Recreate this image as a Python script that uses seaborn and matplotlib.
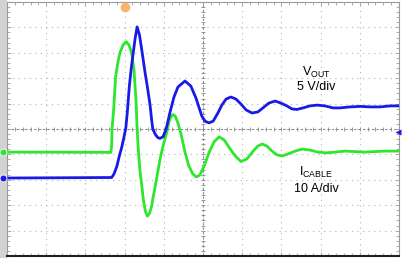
import matplotlib
matplotlib.use("Agg")
import matplotlib.pyplot as plt
import seaborn as sns
import pandas as pd
import numpy as np

# ---- data (screen divisions: x 0..10, y -5..5, centre 0) ----
# V_OUT trace (blue)
vout_x = [0.00, 2.67, 2.73, 2.80, 2.86, 2.93, 2.98, 3.03, 3.07, 3.12, 3.17, 3.22,
          3.27, 3.32, 3.38, 3.45, 3.52, 3.58, 3.65, 3.69, 3.72, 3.78, 3.84, 3.90,
          3.98, 4.06, 4.16, 4.26, 4.36, 4.54, 4.69, 4.82, 4.97, 5.05, 5.15, 5.26,
          5.38, 5.48, 5.59, 5.71, 5.84, 5.97, 6.10, 6.25, 6.40, 6.56, 6.68, 6.84,
          6.99, 7.14, 7.27, 7.40, 7.55, 7.73, 7.91, 8.11, 8.32, 8.49, 8.75, 9.01,
          9.26, 9.52, 9.77, 10.00]
vout_y = [-1.93, -1.91, -1.77, -1.48, -1.10, -0.70, -0.35, 0.03, 0.67, 1.67, 2.40,
          2.99, 3.58, 4.02, 3.70, 2.99, 2.24, 1.67, 0.94, 0.35, 0.00, -0.20, -0.33,
          -0.37, -0.31, 0.00, 0.67, 1.26, 1.65, 1.89, 1.69, 1.22, 0.51, 0.31, 0.24,
          0.31, 0.63, 0.94, 1.18, 1.26, 1.18, 0.98, 0.75, 0.63, 0.67, 0.87, 1.02,
          1.10, 1.02, 0.91, 0.79, 0.77, 0.83, 0.91, 0.94, 0.91, 0.83, 0.83, 0.87,
          0.89, 0.87, 0.87, 0.91, 0.91]

# I_CABLE trace (green)
icab_x = [0.00, 2.65, 2.67, 2.68, 2.72, 2.77, 2.83, 2.88, 2.96, 3.04, 3.11, 3.18,
          3.24, 3.29, 3.32, 3.35, 3.39, 3.44, 3.48, 3.53, 3.58, 3.64, 3.69, 3.73,
          3.81, 3.90, 3.98, 4.07, 4.13, 4.18, 4.23, 4.29, 4.36, 4.44, 4.54, 4.64,
          4.74, 4.83, 4.92, 5.03, 5.15, 5.28, 5.41, 5.54, 5.66, 5.82, 5.97, 6.12,
          6.28, 6.40, 6.51, 6.63, 6.76, 6.89, 7.02, 7.17, 7.35, 7.53, 7.73, 7.93,
          8.14, 8.37, 8.62, 8.88, 9.13, 9.39, 9.64, 10.00]
icab_y = [-0.91, -0.92, -0.63, 0.00, 0.75, 2.05, 2.64, 2.99, 3.31, 3.44, 3.31, 2.99,
          2.32, 1.14, 0.00, -0.83, -1.61, -2.24, -2.80, -3.23, -3.43, -3.31, -3.03,
          -2.67, -2.01, -1.22, -0.67, -0.17, 0.28, 0.47, 0.57, 0.51, 0.24, -0.20,
          -0.91, -1.46, -1.77, -1.89, -1.81, -1.46, -0.94, -0.51, -0.31, -0.43,
          -0.71, -1.06, -1.28, -1.18, -0.87, -0.67, -0.59, -0.67, -0.87, -1.02,
          -1.06, -0.98, -0.87, -0.79, -0.83, -0.91, -0.94, -0.91, -0.87, -0.89,
          -0.91, -0.89, -0.87, -0.87]

vout_label = r"V$_{\mathregular{OUT}}$"
vout_scale = "5 V/div"
icab_label = r"I$_{\mathregular{CABLE}}$"
icab_scale = "10 A/div"

BLUE = "#1a1ae8"
GREEN = "#2ee62e"

sns.set_theme(style="white")
plt.rcParams["font.family"] = ["Liberation Sans", "DejaVu Sans"]
plt.rcParams["mathtext.fontset"] = "custom"
plt.rcParams["mathtext.rm"] = "Liberation Sans"

W, H = 404, 258
fig = plt.figure(figsize=(W / 100, H / 100), dpi=100)
fig.patch.set_facecolor("white")

# left grey bar
bar = fig.add_axes([0, 0, 7 / W, 1])
bar.set_facecolor("#d2d2d2")
bar.set_xticks([]); bar.set_yticks([])
for s in bar.spines.values():
    s.set_visible(False)

ax = fig.add_axes([7 / W, 2 / H, 392 / W, 254 / H])
ax.set_facecolor("white")
ax.set_xlim(0, 10)
ax.set_ylim(-5, 5)

# grid
ax.set_xticks(np.arange(0, 11, 1))
ax.set_yticks(np.arange(-5, 6, 1))
ax.set_xticks(np.arange(0, 10.01, 0.2), minor=True)
ax.set_yticks(np.arange(-5, 5.01, 0.2), minor=True)
ax.grid(True, which="major", color="#b4b4b4", lw=0.8, ls=(0, (1, 4)))
ax.tick_params(which="both", direction="in", labelbottom=False, labelleft=False,
               top=True, right=True, bottom=True, left=True, colors="#a0a0a0")
ax.tick_params(which="major", length=3, width=0.6)
ax.tick_params(which="minor", length=2, width=0.6)

# centre crosshair with minor ticks
ax.axhline(0, color="#8c8c8c", lw=0.8, ls=(0, (2, 2)), zorder=1)
ax.axvline(5, color="#8c8c8c", lw=0.8, ls=(0, (2, 2)), zorder=1)
mt = np.arange(0, 10.01, 0.2)
ax.plot(mt, np.zeros_like(mt), ls="none", marker="|", ms=3, mew=0.6, color="#8c8c8c", zorder=1)
mv = np.arange(-5, 5.01, 0.2)
ax.plot(np.full_like(mv, 5), mv, ls="none", marker="_", ms=3, mew=0.6, color="#8c8c8c", zorder=1)

for side in ["top", "right", "left"]:
    ax.spines[side].set_color("#9a9a9a")
    ax.spines[side].set_linewidth(0.8)
ax.spines["bottom"].set_color("#202020")
ax.spines["bottom"].set_linewidth(1.5)

# traces
df_i = pd.DataFrame({"t": icab_x, "v": icab_y})
df_v = pd.DataFrame({"t": vout_x, "v": vout_y})
sns.lineplot(data=df_i, x="t", y="v", ax=ax, color=GREEN, lw=2.0,
             estimator=None, sort=False, zorder=3)
sns.lineplot(data=df_v, x="t", y="v", ax=ax, color=BLUE, lw=2.0,
             estimator=None, sort=False, zorder=4)
ax.set_xlabel(""); ax.set_ylabel("")

# channel ground markers on the left bar
ax.plot([-0.09], [icab_y[0]], marker="o", ms=5, color=GREEN, mec="white", mew=0.6,
        clip_on=False, zorder=6)
ax.plot([-0.09], [vout_y[0]], marker="o", ms=5, color=BLUE, mec="white", mew=0.6,
        clip_on=False, zorder=6)
# trigger markers
ax.plot([3.01], [4.8], marker="o", ms=7, color="#f7b46a", mec="none", clip_on=False, zorder=6)
ax.plot([9.98], [-0.12], marker="<", ms=4, color=BLUE, mec="none", clip_on=False, zorder=6)

# labels
ax.text(7.88, 2.24, vout_label, ha="center", va="center", fontsize=9, color="black")
ax.text(7.88, 1.65, vout_scale, ha="center", va="center", fontsize=9, color="black")
ax.text(7.88, -1.73, icab_label, ha="center", va="center", fontsize=9, color="black")
ax.text(7.88, -2.36, icab_scale, ha="center", va="center", fontsize=9, color="black")

fig.savefig("out.png", dpi=100)
